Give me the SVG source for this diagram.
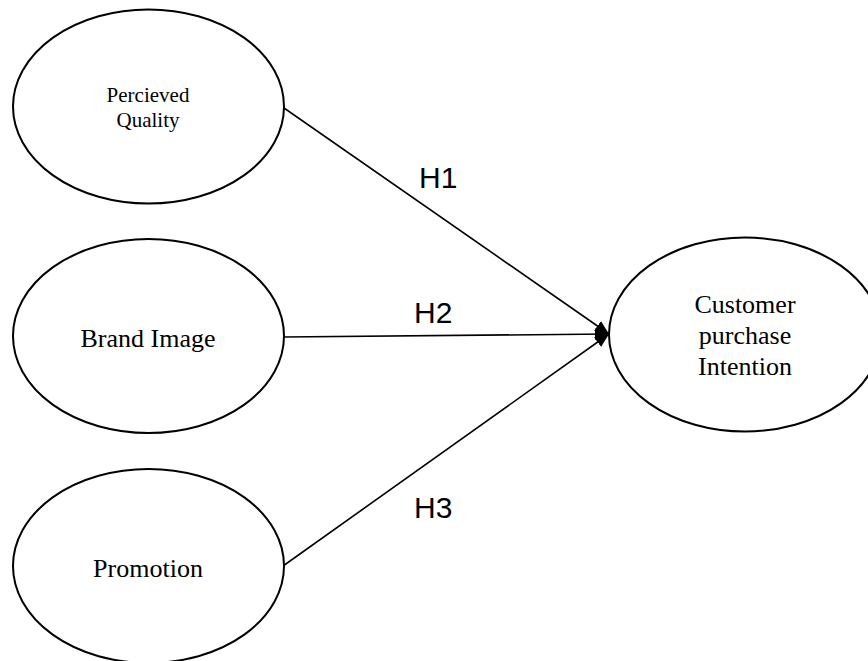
<svg xmlns="http://www.w3.org/2000/svg" width="868" height="661" viewBox="0 0 868 661">
  <style>
    .node ellipse { fill: #ffffff; stroke: #000000; stroke-width: 2; }
    .lbl { font-family: "Liberation Serif", "Times New Roman", serif; fill: #000000; text-anchor: middle; }
    .big { font-size: 26px; }
    .small { font-size: 21px; }
    .edge { stroke: #000000; stroke-width: 1.6; fill: none; marker-end: url(#arrow); }
    .hl { font-family: "Liberation Sans", Arial, sans-serif; font-size: 30px; fill: #000000; }
  </style>
  <defs>
    <marker id="arrow" viewBox="0 0 14 12" refX="14" refY="6" markerWidth="14" markerHeight="12" markerUnits="userSpaceOnUse" orient="auto">
      <path d="M0,0 L14,6 L0,12 Z" fill="#000000"/>
    </marker>
  </defs>
  <rect width="868" height="661" fill="#ffffff"/>
  <g id="connectors">
    <line class="edge" x1="284" y1="108" x2="609" y2="334"/>
    <line class="edge" x1="284" y1="337" x2="609" y2="334"/>
    <line class="edge" x1="283" y1="566" x2="609" y2="334"/>
    <text class="hl" x="419" y="188">H1</text>
    <text class="hl" x="414" y="323">H2</text>
    <text class="hl" x="414" y="518">H3</text>
  </g>
  <g id="perceived-quality" class="node">
    <ellipse cx="148.5" cy="106.5" rx="135.5" ry="97"/>
    <text class="lbl small" x="148" y="102">Percieved</text>
    <text class="lbl small" x="148" y="127">Quality</text>
  </g>
  <g id="brand-image" class="node">
    <ellipse cx="148.5" cy="336" rx="135.5" ry="97"/>
    <text class="lbl big" x="148" y="347">Brand Image</text>
  </g>
  <g id="promotion" class="node">
    <ellipse cx="148.5" cy="566" rx="135.5" ry="97"/>
    <text class="lbl big" x="148" y="577">Promotion</text>
  </g>
  <g id="customer-purchase-intention" class="node">
    <ellipse cx="745" cy="334.5" rx="136" ry="97"/>
    <text class="lbl big" x="745" y="313">Customer</text>
    <text class="lbl big" x="745" y="344">purchase</text>
    <text class="lbl big" x="745" y="375">Intention</text>
  </g>
</svg>
